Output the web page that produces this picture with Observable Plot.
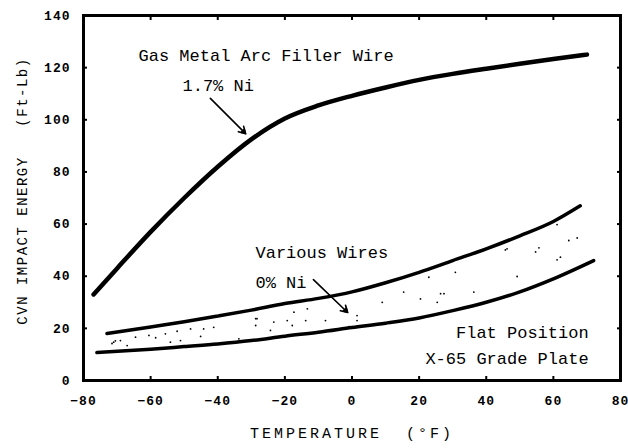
<!DOCTYPE html>
<html><head><meta charset="utf-8">
<script src="https://cdn.jsdelivr.net/npm/d3@7"></script>
<script src="https://cdn.jsdelivr.net/npm/@observablehq/plot@0.6"></script>
<style>body{margin:0;background:#fff;}</style>
</head><body><div id="chart"></div>
<script>
const xTicks = [-80, -60, -40, -20, 0, 20, 40, 60, 80];
const yTicks = [0, 20, 40, 60, 80, 100, 120, 140];
const xTitle = "TEMPERATURE  (°F)";
const yTitle = "CVN IMPACT ENERGY   (Ft-Lb)";

// 1.7% Ni gas metal arc filler wire
const niTemp   = [-77, -70, -60, -50, -40, -30, -20, -10, 0, 10, 20, 30, 40, 50, 60, 70];
const niEnergy = [33, 43, 57, 70, 82, 92.5, 100.5, 105.5, 109.2, 112.4, 115.3, 117.6, 119.6, 121.5, 123.3, 125];

// various wires 0% Ni — upper bound of band
const hiTemp   = [-73, -60, -50, -40, -30, -20, -10, 0, 10, 20, 30, 40, 50, 60, 68];
const hiEnergy = [18, 20.5, 22.5, 24.7, 27, 29.5, 31.5, 34, 37.5, 41.5, 46, 50.5, 55.5, 61, 67];

// lower bound of band
const loTemp   = [-76, -60, -50, -40, -30, -20, -10, 0, 10, 20, 30, 40, 50, 60, 72];
const loEnergy = [10.7, 12, 13, 14, 15.3, 17, 18.5, 20.3, 22, 24, 26.8, 30, 34, 39, 46];

// stippled data points inside band
const dotTemp   = [-71, -71.5, -70.5, -69, -64.5, -60.5, -58.5, -55.6, -52.1, -48.1, -44.2, -41.2, -45.1, -54.1, -51.1, -67, -33.7, -28.7, -28.7,
                   -28.3, -23.3, -19.3, -17.8, -13.8, -7.9, -0.9, 1.5, 1.5, -13.3, -17.3, 9, 15.4, 20.4, -24.3,
                   45.7, 46.2, 62.1, 61.1, 54.7, 55.7, 67.1, 64.6, 61.1, 30.8, 22.9, 49.2, 26.4, 25.4, 36.3, 27.4];
const dotEnergy = [14.7, 14.2, 15.2, 15.3, 16.6, 17.3, 16.4, 17.9, 18.9, 19.8, 19.8, 20.4, 16.9, 14.7, 15.3, 13.4, 16.0, 23.7, 21.1,
                   23.7, 22.4, 23.0, 21.1, 23.0, 23.0, 20.7, 24.9, 23.0, 27.5, 26.2, 30.0, 33.9, 31.3, 19.2,
                   50.1, 50.5, 47.3, 46.3, 49.3, 50.9, 54.7, 53.7, 59.8, 41.5, 39.6, 39.9, 33.3, 30.0, 33.9, 33.3];

// annotations (left aligned)
const noteText = ["Gas Metal Arc Filler Wire", "1.7% Ni", "Various Wires", "0% Ni"];
const noteTemp = [-63.6, -50.5, -28.75, -28.75];
const noteEnergy = [124.7, 113.2, 49.1, 37.6];
// annotations (right aligned)
const sideText = ["Flat Position", "X-65 Grade Plate"];
const sideTemp = [70.5, 70.5];
const sideEnergy = [18.4, 8.4];
// arrows
const arrowFromT = [-42.2, -11.5];
const arrowFromE = [108.2, 38.7];
const arrowToT = [-31.7, -1.3];
const arrowToE = [94.7, 26.1];

const pts = (xs, ys) => xs.map((x, i) => ({x, y: ys[i]}));
const notes = noteText.map((t, i) => ({t, x: noteTemp[i], y: noteEnergy[i]}));
const sides = sideText.map((t, i) => ({t, x: sideTemp[i], y: sideEnergy[i]}));
const arrows = arrowFromT.map((x1, i) => ({x1, y1: arrowFromE[i], x2: arrowToT[i], y2: arrowToE[i]}));

const font = "'Liberation Mono', 'DejaVu Sans Mono', monospace";
const tickStyle = {fontSize: 13, fontWeight: "bold", fontFamily: font, label: null};

const chart = Plot.plot({
  width: 628, height: 448,
  marginLeft: 83, marginRight: 8, marginTop: 15, marginBottom: 68,
  x: {domain: [-80, 80], label: null},
  y: {domain: [0, 140], label: null},
  style: {fontFamily: font, background: "white", color: "black"},
  marks: [
    Plot.axisX({ticks: xTicks, tickSize: -4, strokeWidth: 2, tickFormat: () => "", label: null}),
    Plot.axisX({ticks: xTicks, tickSize: 0, tickPadding: 15, ...tickStyle}),
    Plot.axisX({anchor: "top", ticks: xTicks, tickSize: -4, strokeWidth: 2, tickFormat: () => "", label: null}),
    Plot.axisY({ticks: yTicks, tickSize: -4, strokeWidth: 2, tickFormat: () => "", label: null}),
    Plot.axisY({ticks: yTicks, tickSize: 0, tickPadding: 13, ...tickStyle}),
    Plot.axisY({anchor: "right", ticks: yTicks, tickSize: -4, strokeWidth: 2, tickFormat: () => "", label: null}),
    Plot.frame({strokeWidth: 3, stroke: "black"}),
    Plot.dot(pts(dotTemp, dotEnergy), {x: "x", y: "y", r: 0.9, fill: "black"}),
    Plot.line(pts(niTemp, niEnergy), {x: "x", y: "y", curve: "monotone-x", stroke: "black", strokeWidth: 4.5, strokeLinecap: "round"}),
    Plot.line(pts(hiTemp, hiEnergy), {x: "x", y: "y", curve: "monotone-x", stroke: "black", strokeWidth: 3.5, strokeLinecap: "round"}),
    Plot.line(pts(loTemp, loEnergy), {x: "x", y: "y", curve: "monotone-x", stroke: "black", strokeWidth: 3.5, strokeLinecap: "round"}),
    Plot.arrow(arrows, {x1: "x1", y1: "y1", x2: "x2", y2: "y2", stroke: "black", strokeWidth: 1.6, headLength: 7}),
    Plot.dot(arrows, {x: "x2", y: "y2", symbol: "triangle", rotate: 135, r: 2.6, fill: "black", dx: -2, dy: -2}),
    Plot.text(notes, {x: "x", y: "y", text: "t", textAnchor: "start", fontSize: 17, fill: "black"}),
    Plot.text(sides, {x: "x", y: "y", text: "t", textAnchor: "end", fontSize: 17, fill: "black"}),
    Plot.text([xTitle], {text: d => d, frameAnchor: "bottom", textAnchor: "middle", dy: 57, fontSize: 15, fill: "black"}),
    Plot.text([yTitle], {text: d => d, frameAnchor: "left", textAnchor: "middle", dx: -61, dy: -7, rotate: -90, fontSize: 14, fill: "black"})
  ]
});
chart.querySelectorAll('g[aria-label="x-axis tick label"] text, g[aria-label="y-axis tick label"] text')
  .forEach(t => t.style.letterSpacing = "1px");
chart.querySelectorAll("text").forEach(t => {
  if (t.textContent === xTitle) t.style.letterSpacing = "3px";
  if (t.textContent === yTitle) t.style.letterSpacing = "1.5px";
});
document.getElementById("chart").append(chart);
</script>
</body></html>
